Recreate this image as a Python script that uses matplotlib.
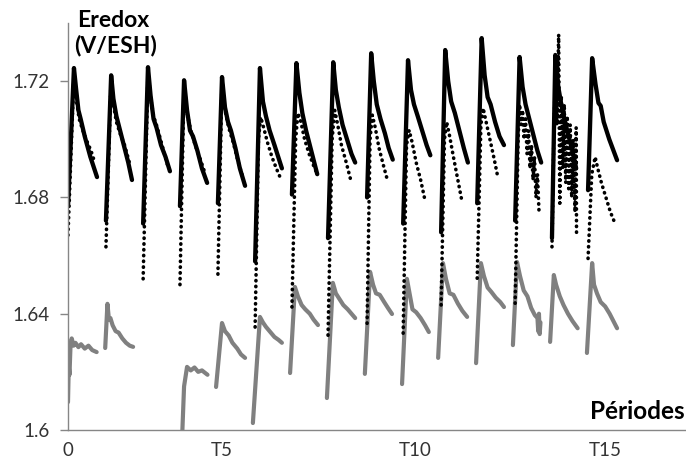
import numpy as np
import matplotlib
matplotlib.use("Agg")
import matplotlib.pyplot as plt

# ---------------- data (time in periods, Eredox in V/ESH) ----------------
solid_t = [
    [0.00, 0.16, 0.22, 0.28, 0.34, 0.45, 0.60, 0.78],
    [1.02, 1.16, 1.22, 1.30, 1.38, 1.50, 1.62, 1.72],
    [2.02, 2.15, 2.22, 2.30, 2.38, 2.50, 2.62, 2.74],
    [3.01, 3.12, 3.20, 3.28, 3.36, 3.48, 3.60, 3.74],
    [4.03, 4.14, 4.22, 4.30, 4.38, 4.50, 4.62, 4.76],
    [5.03, 5.16, 5.24, 5.32, 5.42, 5.55, 5.65, 5.75],
    [6.02, 6.14, 6.22, 6.30, 6.40, 6.52, 6.62, 6.70],
    [6.99, 7.13, 7.20, 7.28, 7.38, 7.50, 7.62, 7.72],
    [8.04, 8.15, 8.22, 8.30, 8.40, 8.52, 8.62, 8.73],
    [9.01, 9.14, 9.22, 9.30, 9.40, 9.52, 9.64, 9.74],
    [10.03, 10.14, 10.22, 10.30, 10.40, 10.52, 10.64, 10.75],
    [11.00, 11.12, 11.20, 11.28, 11.36, 11.48, 11.60, 11.72],
    [12.02, 12.14, 12.22, 12.30, 12.40, 12.52, 12.62, 12.72],
    [13.01, 13.10, 13.18, 13.26, 13.36, 13.48, 13.58, 13.66],
    [13.98, 14.09, 14.18, 14.26, 14.32, 14.40, 14.55, 14.76],
]
solid_v = [
    [1.677, 1.7245, 1.717, 1.710, 1.707, 1.701, 1.694, 1.687],
    [1.672, 1.722, 1.714, 1.708, 1.704, 1.698, 1.692, 1.686],
    [1.671, 1.7248, 1.715, 1.707, 1.704, 1.698, 1.694, 1.689],
    [1.677, 1.7203, 1.710, 1.703, 1.701, 1.696, 1.690, 1.685],
    [1.678, 1.7214, 1.711, 1.706, 1.703, 1.697, 1.690, 1.684],
    [1.658, 1.7245, 1.713, 1.708, 1.703, 1.698, 1.694, 1.690],
    [1.681, 1.7262, 1.716, 1.709, 1.703, 1.697, 1.692, 1.688],
    [1.666, 1.7265, 1.717, 1.711, 1.705, 1.700, 1.695, 1.692],
    [1.680, 1.7296, 1.720, 1.712, 1.707, 1.702, 1.697, 1.693],
    [1.671, 1.7272, 1.717, 1.712, 1.708, 1.703, 1.698, 1.6945],
    [1.668, 1.7307, 1.720, 1.713, 1.709, 1.703, 1.697, 1.692],
    [1.678, 1.7348, 1.722, 1.7145, 1.712, 1.706, 1.701, 1.698],
    [1.672, 1.7283, 1.718, 1.712, 1.707, 1.701, 1.696, 1.692],
    [1.666, 1.729, 1.718, 1.712, 1.706, 1.700, 1.695, 1.690],
    [1.6825, 1.7279, 1.719, 1.7125, 1.7115, 1.706, 1.700, 1.6928],
]

dotted_t = [
    [0.00, 0.16, 0.22, 0.30, 0.40, 0.52, 0.62, 0.70],
    [1.02, 1.16, 1.22, 1.30, 1.40, 1.52, 1.65],
    [2.02, 2.15, 2.22, 2.30, 2.40, 2.55, 2.70],
    [3.01, 3.12, 3.20, 3.30, 3.42, 3.56, 3.70],
    [4.03, 4.14, 4.22, 4.32, 4.44, 4.58, 4.70],
    [5.03, 5.12, 5.18, 5.26, 5.36, 5.48, 5.60, 5.70],
    [6.02, 6.12, 6.18, 6.26, 6.36, 6.48, 6.60, 6.70],
    [6.99, 7.10, 7.17, 7.25, 7.35, 7.48, 7.62],
    [8.04, 8.12, 8.18, 8.26, 8.36, 8.48, 8.60],
    [9.01, 9.10, 9.17, 9.25, 9.36, 9.48, 9.58],
    [10.03, 10.12, 10.18, 10.26, 10.36, 10.48, 10.60],
    [11.00, 11.10, 11.16, 11.24, 11.34, 11.46, 11.56],
    [12.02, 12.10, 12.14, 12.18, 12.22, 12.26, 12.30, 12.34, 12.38, 12.42,
     12.46, 12.50, 12.54, 12.58, 12.62, 12.66],
    [13.01, 13.06, 13.10, 13.14, 13.19, 13.22, 13.26, 13.30, 13.34, 13.38,
     13.42, 13.46, 13.50, 13.54, 13.58, 13.63, 13.66, 13.67],
    [13.98, 14.08, 14.17, 14.24, 14.34, 14.46, 14.58, 14.70],
]
dotted_v = [
    [1.667, 1.7225, 1.714, 1.707, 1.703, 1.699, 1.696, 1.6928],
    [1.663, 1.721, 1.712, 1.706, 1.702, 1.698, 1.692],
    [1.652, 1.723, 1.714, 1.708, 1.704, 1.697, 1.690],
    [1.650, 1.719, 1.709, 1.703, 1.698, 1.693, 1.6877],
    [1.6536, 1.720, 1.710, 1.704, 1.699, 1.692, 1.687],
    [1.6354, 1.700, 1.7076, 1.704, 1.699, 1.694, 1.690, 1.687],
    [1.6423, 1.700, 1.709, 1.706, 1.700, 1.695, 1.691, 1.688],
    [1.6326, 1.700, 1.710, 1.705, 1.698, 1.692, 1.685],
    [1.6367, 1.700, 1.7083, 1.704, 1.697, 1.691, 1.6853],
    [1.6333, 1.698, 1.7031, 1.699, 1.692, 1.686, 1.680],
    [1.643, 1.700, 1.7059, 1.701, 1.694, 1.686, 1.678],
    [1.6522, 1.705, 1.7107, 1.706, 1.700, 1.693, 1.6866],
    [1.6436, 1.700, 1.712, 1.705, 1.710, 1.700, 1.707, 1.695, 1.703, 1.690,
     1.698, 1.686, 1.694, 1.680, 1.688, 1.6756],
    [1.663, 1.700, 1.722, 1.705, 1.736, 1.678, 1.715, 1.690, 1.712, 1.685,
     1.708, 1.683, 1.705, 1.680, 1.700, 1.675, 1.704, 1.668],
    [1.659, 1.688, 1.6939, 1.690, 1.685, 1.680, 1.675, 1.6712],
]

gray_t = [
    [0.00, 0.02, 0.04, 0.07, 0.10, 0.15, 0.20, 0.28, 0.35, 0.45, 0.55, 0.65, 0.77],
    [1.00, 1.06, 1.10, 1.14, 1.20, 1.28, 1.36, 1.46, 1.56, 1.66, 1.75],
    [3.06, 3.12, 3.20, 3.30, 3.40, 3.50, 3.60, 3.75],
    [3.98, 4.14, 4.22, 4.32, 4.42, 4.55, 4.65, 4.76],
    [4.97, 5.16, 5.24, 5.32, 5.42, 5.55, 5.66, 5.75],
    [5.97, 6.10, 6.18, 6.28, 6.38, 6.50, 6.60, 6.72],
    [6.96, 7.12, 7.20, 7.30, 7.40, 7.52, 7.62, 7.72],
    [7.98, 8.12, 8.20, 8.28, 8.38, 8.50, 8.60, 8.71],
    [8.98, 9.11, 9.18, 9.26, 9.36, 9.48, 9.60, 9.70],
    [9.95, 10.08, 10.16, 10.26, 10.36, 10.48, 10.60, 10.73],
    [10.97, 11.10, 11.18, 11.28, 11.38, 11.50, 11.62, 11.72],
    [11.96, 12.07, 12.15, 12.25, 12.35, 12.45, 12.55, 12.62, 12.64, 12.66, 12.68, 12.70],
    [12.96, 13.06, 13.12, 13.22, 13.32, 13.44, 13.56, 13.70],
    [13.95, 14.09, 14.14, 14.22, 14.32, 14.44, 14.56, 14.66, 14.76],
]
gray_v = [
    [1.6096, 1.622, 1.619, 1.630, 1.6315, 1.629, 1.630, 1.6285, 1.6295, 1.628, 1.629, 1.6275, 1.6268],
    [1.6282, 1.6434, 1.638, 1.6385, 1.636, 1.634, 1.6335, 1.6315, 1.630, 1.629, 1.6286],
    [1.595, 1.615, 1.6217, 1.6205, 1.6215, 1.620, 1.6205, 1.619],
    [1.6148, 1.6368, 1.634, 1.6325, 1.630, 1.628, 1.626, 1.6248],
    [1.6024, 1.6389, 1.637, 1.6355, 1.634, 1.632, 1.631, 1.630],
    [1.6196, 1.6492, 1.646, 1.643, 1.6415, 1.640, 1.638, 1.6361],
    [1.611, 1.6506, 1.647, 1.645, 1.643, 1.6415, 1.640, 1.6385],
    [1.6193, 1.6544, 1.650, 1.647, 1.6465, 1.644, 1.642, 1.6399],
    [1.6158, 1.652, 1.647, 1.6415, 1.6405, 1.6385, 1.636, 1.6337],
    [1.6248, 1.6574, 1.652, 1.647, 1.6465, 1.6435, 1.641, 1.6389],
    [1.623, 1.6574, 1.653, 1.649, 1.6475, 1.6455, 1.644, 1.6423],
    [1.6292, 1.6578, 1.653, 1.648, 1.646, 1.642, 1.6395, 1.6385, 1.634, 1.640, 1.633, 1.637],
    [1.6303, 1.6533, 1.650, 1.646, 1.643, 1.640, 1.6375, 1.635],
    [1.6265, 1.6574, 1.650, 1.647, 1.644, 1.6425, 1.640, 1.6375, 1.635],
]

ytick_values = [1.6, 1.64, 1.68, 1.72]
ytick_labels = ["1.6", "1.64", "1.68", "1.72"]
xtick_values = [0, 4.14, 9.33, 14.44]
xtick_labels = ["0", "T5", "T10", "T15"]
y_title = ["Eredox", "(V/ESH)"]
x_title = "Périodes"


def join(segments):
    out = []
    for seg in segments:
        out.extend(seg)
        out.append(np.nan)
    return np.array(out[:-1], dtype=float)


# ---------------- figure ----------------
plt.rcParams["font.family"] = ["Lato", "DejaVu Sans"]
fig = plt.figure(figsize=(6.86, 4.63), dpi=100)
W, H = 686, 463
ax = fig.add_axes([68 / W, 1 - 430 / H, (W - 68) / W, (430 - 23) / H])

ax.plot(join(gray_t), join(gray_v), color="#808080", lw=3.0,
        solid_joinstyle="round", solid_capstyle="round")
ax.plot(join(solid_t), join(solid_v), color="black", lw=3.1,
        solid_joinstyle="round", solid_capstyle="round")
ax.plot(join(dotted_t), join(dotted_v), color="black", lw=2.6,
        linestyle=(0, (0.1, 1.5)), dash_capstyle="round")

ax.set_xlim(0, (W - 68) / 37.2)
ax.set_ylim(1.6, 1.74)

for s in ["top", "right"]:
    ax.spines[s].set_visible(False)
for s in ["left", "bottom"]:
    ax.spines[s].set_color("#868686")
    ax.spines[s].set_linewidth(1.0)

ax.set_yticks(ytick_values)
ax.set_yticklabels(ytick_labels)
ax.set_xticks(xtick_values)
ax.set_xticklabels(xtick_labels)
ax.tick_params(axis="y", length=5.5, width=1.0, color="#868686", pad=8,
               labelsize=13.5, labelcolor="#333333")
ax.tick_params(axis="x", length=0, pad=9, labelsize=13.5, labelcolor="#333333")

fig.text(77 / W, 1 - 10 / H, y_title[0], fontsize=16.5, fontweight="bold",
         ha="left", va="top", color="black")
fig.text(74 / W, 1 - 35 / H, y_title[1], fontsize=16.5, fontweight="bold",
         ha="left", va="top", color="black")
fig.text(685 / W, 1 - 400 / H, x_title, fontsize=17.5, fontweight="bold",
         ha="right", va="top", color="black")

fig.savefig("out.png", dpi=100)
